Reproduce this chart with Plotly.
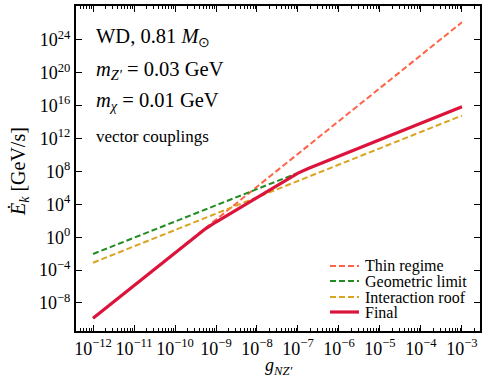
import numpy as np
import plotly.graph_objects as go

# log10 of coupling g_NZ'
g_log = [-12, -11, -10, -9.5, -9.25, -9, -8.5, -8, -7.5, -7, -6.75, -6, -5, -4, -3]
# log10 of energy rates (GeV/s)
final_log = [-9.87, -5.87, -1.87, 0.13, 1.05, 1.85, 3.35, 4.85, 6.35, 7.8, 8.35, 9.85, 11.85, 13.85, 15.87]

thin_g = [-12, -3]
thin_log = [-9.87, 26.15]

geo_g = [-12, -7.03]
geo_log = [-2.04, 7.77]

roof_g = [-12, -3]
roof_log = [-3.1, 14.8]

x_tick_exp = list(range(-12, -2))
y_tick_exp = list(range(-8, 25, 4))

names = ["Thin regime", "Geometric limit", "Interaction roof", "Final"]
colors = ["#FF6347", "#228B22", "#DAA520", "#DC143C"]

def p10(a):
    return [10.0 ** float(v) for v in a]

def plab(e):
    s = str(e).replace("-", "\u2212")
    return f"10<sup>{s}</sup>"

FONT = "Liberation Serif"
L, R, T, B = 76, 480, 6, 331
W, H = 488, 382

DASH = "6px,3px"
styles = [dict(width=2, dash=DASH), dict(width=2, dash=DASH), dict(width=2, dash=DASH), dict(width=3.2)]

fig = go.Figure()
series = [(thin_g, thin_log), (geo_g, geo_log), (roof_g, roof_log), (g_log, final_log)]
for (xs, ys), nm, c, st in zip(series, names, colors, styles):
    fig.add_trace(go.Scatter(x=p10(xs), y=p10(ys), mode="lines", name=nm,
                             line=dict(color=c, **st), showlegend=False))

axis_common = dict(showline=True, linecolor="black", linewidth=2, mirror="allticks",
                   ticks="inside", tickcolor="black", showgrid=False, zeroline=False,
                   automargin=False, tickfont=dict(family=FONT, size=18, color="black"))

fig.update_xaxes(type="log", range=[-12.415, -2.56], tickmode="array",
                 tickvals=p10(x_tick_exp), ticktext=[plab(e) for e in x_tick_exp],
                 ticklen=6, tickwidth=1.2, tickangle=0,
                 minor=dict(ticks="inside", ticklen=3, tickcolor="black", dtick="D1", showgrid=False),
                 **axis_common)
fig.update_yaxes(type="log", range=[-11.41, 28.13], tickmode="array",
                 tickvals=p10(y_tick_exp), ticktext=[plab(e) for e in y_tick_exp],
                 ticklen=6, tickwidth=1.2,
                 **axis_common)

def px(xp):
    return (xp - L) / (R - L)

def py(yp):
    return (B - yp) / (B - T)

# axis titles
fig.add_annotation(text="<i>g</i><sub><i>NZ′</i></sub>", xref="paper", yref="paper",
                   x=px(278), y=py(366), xanchor="center", yanchor="middle", showarrow=False,
                   font=dict(family=FONT, size=18, color="black"))
fig.add_annotation(text="<i>E\u0307</i><sub><i>k</i></sub> [GeV/s]", xref="paper", yref="paper",
                   x=px(19), y=py(172), xanchor="center", yanchor="middle", showarrow=False,
                   textangle=-90, font=dict(family=FONT, size=20, color="black"))

ann = [
    ("WD, 0.81 <i>M</i><sub>⊙</sub>", 37, 20.5),
    ("<i>m</i><sub><i>Z′</i></sub> = 0.03 GeV", 70, 20.5),
    ("<i>m</i><sub><i>χ</i></sub> = 0.01 GeV", 102, 20.5),
    ("vector couplings", 136, 17),
]
for txt, yc, sz in ann:
    fig.add_annotation(text=txt, xref="paper", yref="paper",
                       x=px(94), y=py(yc), xanchor="left", yanchor="middle", showarrow=False,
                       font=dict(family=FONT, size=sz, color="black"))

# legend (drawn manually for tight row spacing)
rows = [266, 281, 297, 312]
for nm, c, st, yr in zip(names, colors, styles, rows):
    fig.add_shape(type="line", xref="paper", yref="paper",
                  x0=px(330), x1=px(359), y0=py(yr), y1=py(yr),
                  line=dict(color=c, **st))
    fig.add_annotation(text=nm, xref="paper", yref="paper",
                       x=px(363), y=py(yr), xanchor="left", yanchor="middle", showarrow=False,
                       font=dict(family=FONT, size=16, color="black"))

fig.update_layout(
    width=W, height=H,
    margin=dict(l=L, r=W - R, t=T, b=H - B),
    plot_bgcolor="white", paper_bgcolor="white",
    showlegend=False,
)

fig.write_html("out.html", post_script="document.body.style.margin='0';",
               config={"displayModeBar": False})
